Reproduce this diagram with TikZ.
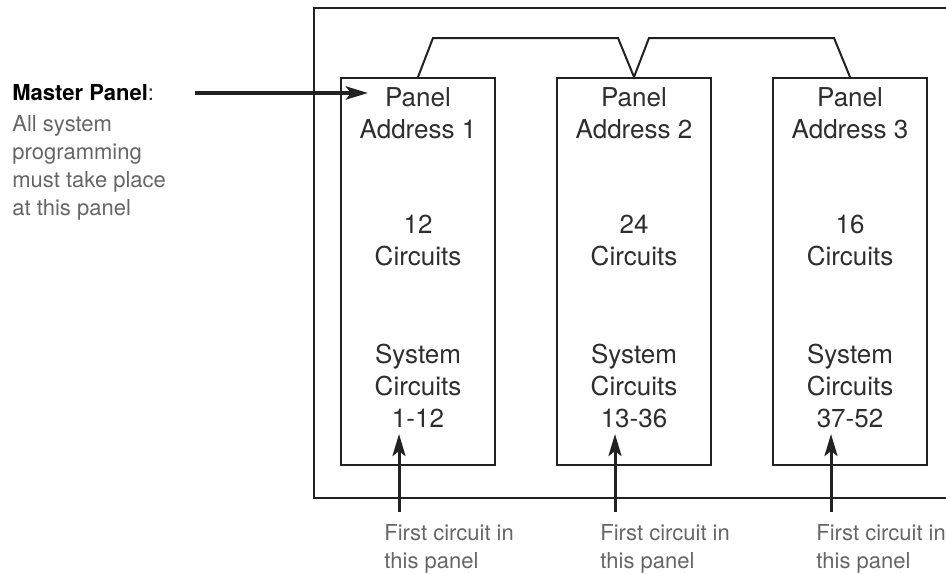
\documentclass[tikz,border=0pt]{standalone}
\usepackage{fontspec}
\setmainfont{TeX Gyre Heros}
\usetikzlibrary{arrows.meta,calc}

\definecolor{inkline}{HTML}{222222}
\definecolor{inktext}{HTML}{2E2E2E}
\definecolor{inkgrey}{HTML}{666666}

\tikzset{
	wire/.style={draw=inkline, line width=1pt},
	panelbox/.style={draw=inkline, line width=1pt, rectangle, inner sep=0pt,
		minimum width=77pt, minimum height=193.5pt},
	paneltext/.style={anchor=north, inner sep=0pt, align=center, text=inktext,
		font=\fontsize{13}{16}\selectfont},
	notetext/.style={anchor=north west, inner sep=0pt, align=left, text=inkgrey,
		font=\fontsize{11}{14}\selectfont},
	pointer/.style={draw=inkline, line width=1.5pt,
		-{Stealth[length=11pt,width=6.5pt,inset=2.5pt]}}
}

\begin{document}
\begin{tikzpicture}[x=0.5pt,y=-0.5pt]
	\useasboundingbox (0,0) rectangle (946,573);

	% enclosure
	\draw[wire] (946,8) -- (314,8) -- (314,498) -- (946,498);

	\begin{scope}[every node/.style={panelbox}]
	\node (panel1) at (418,271.5) {};
	\node (panel2) at (634,271.5) {};
	\node (panel3) at (850,271.5) {};
	\end{scope}

	\foreach \i/\x/\n/\s in {1/418/12/1-12, 2/634/24/13-36, 3/850/16/37-52}{
		\node[paneltext] (addr\i) at (\x,87) {Panel\\Address \i};
		\node[paneltext] (count\i) at (\x,215) {\n\\Circuits};
		\node[paneltext] (range\i) at (\x,344) {System\\Circuits\\\s};
		\coordinate (foot\i) at (\x-19,512);
		\coordinate (tip\i) at (\x-19,434);
		\draw[pointer] (foot\i) -- (tip\i);
		\node[notetext] (first\i) at (\x-34,524) {First circuit in\\this panel};
	}

	% network wire
	\draw[wire] (panel1.north) -- ++(15,-39) -- ($(panel2.north)+(-16,-39)$)
		-- (panel2.north) -- ++(15,-39) -- ($(panel3.north)+(-16,-39)$)
		-- (panel3.north);

	% master panel note
	\node[notetext] (master) at (12,84)
		{\textcolor{black}{\bfseries Master Panel}\textcolor{inktext}{:}\\[1.5pt]
		All system\\programming\\must take place\\at this panel};
	\coordinate (mstart) at (195,93);
	\coordinate (mtip) at (368,93);
	\draw[pointer, line width=2pt] (mstart) -- (mtip);
\end{tikzpicture}
\end{document}
